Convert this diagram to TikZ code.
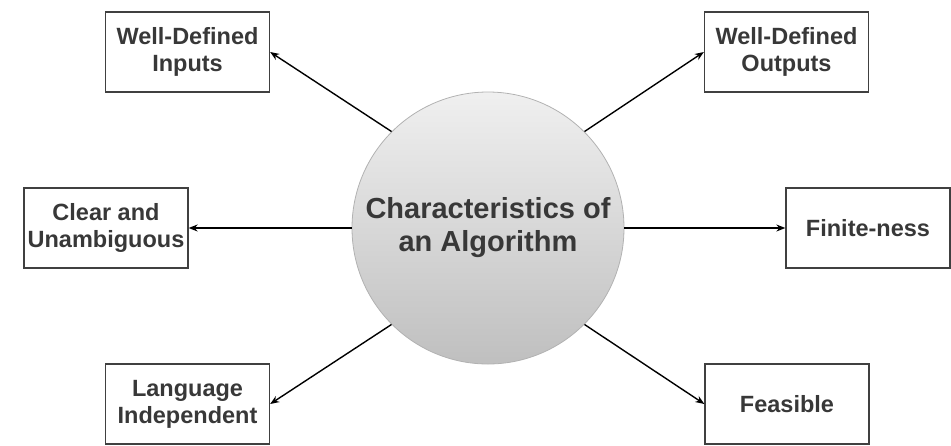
\documentclass[tikz,border=0pt]{standalone}
\usepackage{fontspec}
\setmainfont{Liberation Sans}
\usetikzlibrary{arrows.meta}

\begin{document}
\begin{tikzpicture}[x=1pt,y=1pt,yscale=-1,xscale=1,
  feature/.style={draw=black!75, line width=1.3pt, minimum width=164pt, minimum height=80pt,
    inner sep=2pt, align=center, text=black!78, font=\fontsize{23.5}{27}\selectfont\bfseries},
  link/.style={-{Stealth[length=9pt,width=7pt]}, line width=1.4pt}]
%set diagram size to 951 x 445
\useasboundingbox (0,0) rectangle (951,445);

%Circle: main topic
\node [circle, minimum size=272pt, draw=black!30, line width=0.8pt, top color=black!6, bottom color=black!25,
  align=center, text=black!78, font=\fontsize{29}{33}\selectfont\bfseries] (algo) at (488,228)
  {Characteristics of\\an Algorithm};

%Boxes: characteristics
\node [feature] (inputs) at (187.5,52) {Well-Defined\\Inputs};
\node [feature] (outputs) at (786.5,52) {Well-Defined\\Outputs};
\node [feature] (clear) at (106,228) {Clear and\\Unambiguous};
\node [feature] (finite) at (868,228) {Finite-ness};
\node [feature] (language) at (187.5,404) {Language\\Independent};
\node [feature] (feasible) at (787,404) {Feasible};

%Arrows
\draw [link] (algo.135) -- (inputs.east);
\draw [link] (algo.45) -- (outputs.west);
\draw [link] (algo.west) -- (clear.east);
\draw [link] (algo.east) -- (finite.west);
\draw [link] (algo.225) -- (language.east);
\draw [link] (algo.315) -- (feasible.west);

\end{tikzpicture}
\end{document}
